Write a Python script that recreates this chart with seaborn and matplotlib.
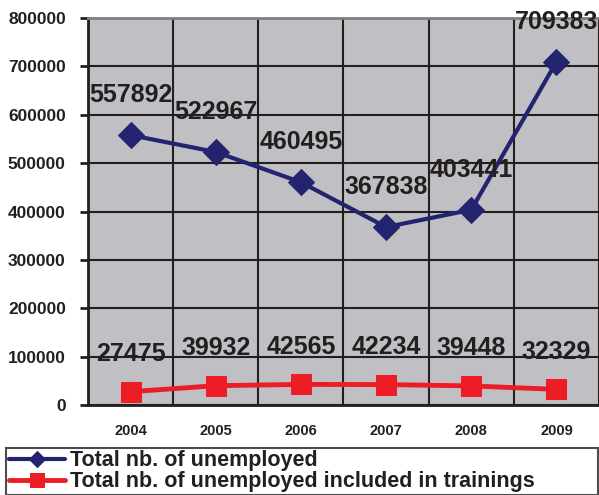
import numpy as np
import pandas as pd
import matplotlib
matplotlib.use("Agg")
import matplotlib.pyplot as plt
import seaborn as sns

# data
years = ["2004", "2005", "2006", "2007", "2008", "2009"]
unemployed = [557892, 522967, 460495, 367838, 403441, 709383]
in_trainings = [27475, 39932, 42565, 42234, 39448, 32329]
series_names = ["Total nb. of unemployed",
                "Total nb. of unemployed included in trainings"]

df = pd.DataFrame({"pos": np.arange(len(years)),
                   "year": years,
                   "unemployed": unemployed,
                   "trainings": in_trainings})

sns.set_style("white")
plt.rcParams["font.family"] = ["Liberation Sans", "DejaVu Sans"]

navy = "#23236f"
red = "#ee1c25"
ink = "#231f20"

fig = plt.figure(figsize=(5.99, 4.95), dpi=100)
ax = fig.add_axes([88 / 599, 1 - 405 / 495, 1 - 88 / 599, (405 - 18) / 495])
ax.set_facecolor("#c0c0c4")

sns.lineplot(data=df, x="pos", y="unemployed", ax=ax, color=navy, lw=3,
             marker="D", markersize=13, markeredgecolor=navy,
             label=series_names[0], legend=False, zorder=4)
sns.lineplot(data=df, x="pos", y="trainings", ax=ax, color=red, lw=3.5,
             marker="s", markersize=15, markeredgecolor=red,
             label=series_names[1], legend=False, zorder=4)

# data labels above the points
for x, v in zip(df["pos"], df["unemployed"]):
    ax.annotate(str(v), (x, v), xytext=(0, 29), textcoords="offset points",
                ha="center", va="center", fontsize=18, fontweight="bold",
                color=ink, zorder=5)
for x, v in zip(df["pos"], df["trainings"]):
    ax.annotate(str(v), (x, v), xytext=(0, 27), textcoords="offset points",
                ha="center", va="center", fontsize=18, fontweight="bold",
                color=ink, zorder=5)

ax.set_xlim(-0.5, len(years) - 0.5)
ax.set_ylim(0, 800000)
ax.set_yticks(np.arange(0, 800001, 100000))
ax.set_yticklabels([str(t) for t in range(0, 800001, 100000)],
                   fontsize=12.5, fontweight="bold", color=ink)
ax.set_xticks(df["pos"])
ax.set_xticklabels(years, fontsize=10.5, fontweight="bold", color=ink)
ax.set_xticks(np.arange(-0.5, len(years), 1), minor=True)
ax.tick_params(axis="x", which="major", length=0, pad=14)
ax.tick_params(axis="x", which="minor", length=8, width=2, direction="out",
               color=ink)
ax.tick_params(axis="y", length=6, width=2, direction="out", pad=10,
               color=ink, left=True)
ax.set_xlabel("")
ax.set_ylabel("")

ax.grid(False)
ax.yaxis.grid(True, color=ink, lw=1.5)
ax.xaxis.grid(True, which="minor", color=ink, lw=1.5)
ax.set_axisbelow(True)

for side in ["left", "bottom"]:
    ax.spines[side].set_color(ink)
    ax.spines[side].set_linewidth(2)
ax.spines["top"].set_color("#808080")
ax.spines["top"].set_linewidth(2)
ax.spines["right"].set_visible(False)

handles, labels = ax.get_legend_handles_labels()
leg = fig.legend(handles, labels, loc="lower left",
                 bbox_to_anchor=(6 / 599, 0, 592 / 599, 52 / 495),
                 mode="expand", borderaxespad=0,
                 prop={"weight": "bold", "size": 15.5},
                 handlelength=2.6, handletextpad=0.25, labelspacing=0.0,
                 borderpad=0.12, frameon=True, fancybox=False, markerscale=0.65)
leg.get_frame().set_edgecolor(ink)
leg.get_frame().set_linewidth(1.5)
for t in leg.get_texts():
    t.set_color(ink)

fig.savefig("out.png", dpi=100)
